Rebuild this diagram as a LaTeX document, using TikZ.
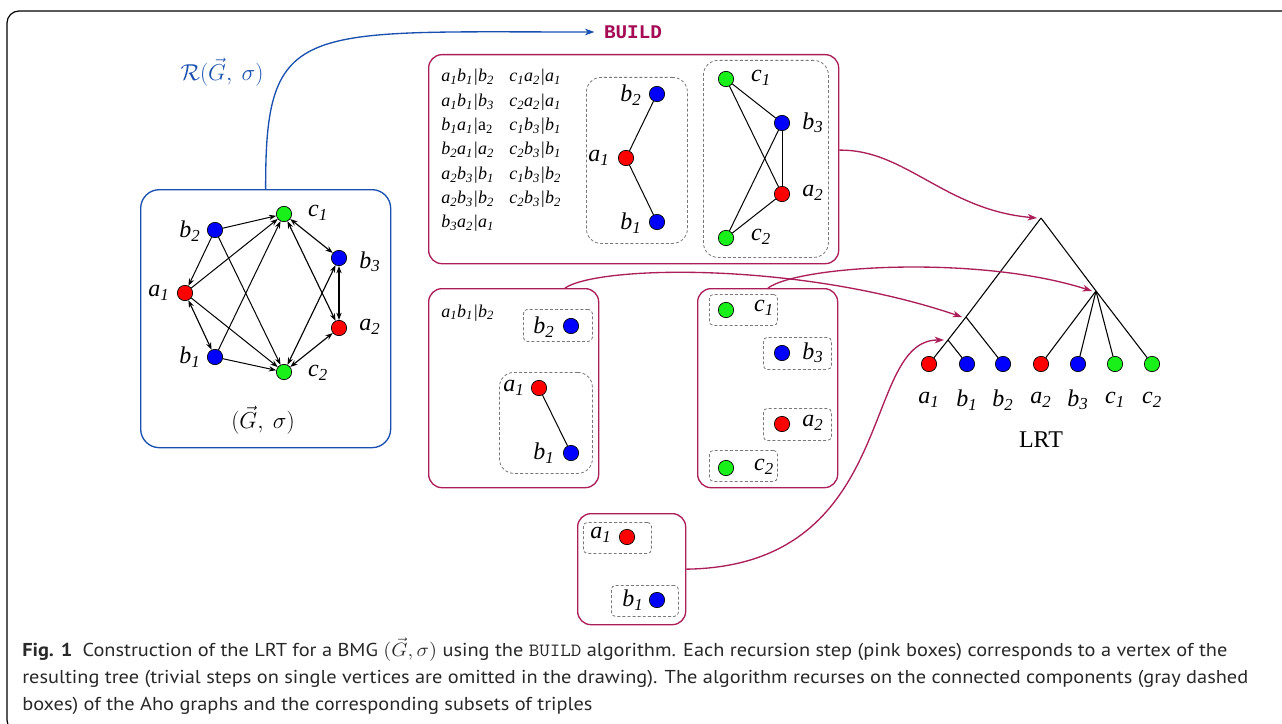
\documentclass[tikz,border=0pt]{standalone}
\usepackage{fontspec}
\setmainfont{Liberation Serif}
\newfontfamily\capfont{PT Sans}
\newfontfamily\buildfont{Liberation Mono}
\usetikzlibrary{arrows.meta}

\definecolor{stepcol}{RGB}{172,30,90}
\definecolor{inputcol}{RGB}{25,80,175}
\definecolor{buildcol}{RGB}{165,10,85}
\definecolor{vred}{RGB}{255,0,0}
\definecolor{vblue}{RGB}{0,0,255}
\definecolor{vgreen}{RGB}{25,240,25}
\definecolor{capgray}{RGB}{40,40,40}
\definecolor{compgray}{RGB}{120,120,120}

% vertex name with subscript, e.g. \ix a1
\newcommand\ix[2]{#1\textsubscript{#2}}
\newsavebox\capbox
\newcommand\capsize{\fontsize{14}{16}\selectfont}

\begin{document}
% horizontal scale of the caption lines, taken from the longest line
\sbox\capbox{\color{capgray}\capfont\capsize resulting tree (trivial steps on single vertices are omitted in the drawing). The algorithm recurses on the connected components (gray dashed}%
\pgfmathsetmacro\capscale{919.5pt/\the\wd\capbox}%
\begin{tikzpicture}[x=0.75pt,y=-0.75pt,
  size/.style 2 args={minimum width=#1*0.75pt,minimum height=#2*0.75pt,anchor=north west,inner sep=0pt},
  vtx/.style={circle,draw=black,line width=0.5pt,minimum size=11.5pt,inner sep=0pt},
  va/.style={vtx,fill=vred},
  vb/.style={vtx,fill=vblue},
  vc/.style={vtx,fill=vgreen},
  lab/.style={font=\fontsize{18}{18}\selectfont\itshape,inner sep=0pt},
  trip/.style={font=\fontsize{13.5}{13.5}\selectfont\itshape,inner sep=0pt,anchor=base west},
  inputbox/.style={draw=inputcol,line width=1pt,rounded corners=14pt},
  stepbox/.style={draw=stepcol,line width=1pt,rounded corners=10pt},
  compbig/.style={draw=compgray,line width=0.6pt,dash pattern=on 2.2pt off 1.6pt,rounded corners=11pt},
  compsmall/.style={draw=compgray,line width=0.6pt,dash pattern=on 2.2pt off 1.6pt,rounded corners=3pt},
  arc/.style={line width=0.75pt,-{Stealth[length=5.5pt,width=4pt]}},
  biarc/.style={line width=0.85pt,{Stealth[length=5.5pt,width=4pt]}-{Stealth[length=5.5pt,width=4pt]}},
  aho/.style={line width=0.75pt},
  tree/.style={line width=0.8pt},
  recur/.style={draw=stepcol,line width=1pt,-{Stealth[length=7pt,width=5pt,inset=2pt]}},
]
\useasboundingbox (0,0) rectangle (1282,724);

% page frame
\begin{scope}
  \clip (0,0) rectangle (1282,724);
  \draw[line width=0.9pt,rounded corners=9pt] (7,11) rectangle (1330,732);
\end{scope}

% ---------- input graph ----------
\node[inputbox,size={250}{258}] (G) at (140,189) {};
\node[vc] (Gc1) at (284,214) {};
\node[vb] (Gb2) at (215,230) {};
\node[vb] (Gb3) at (339,258) {};
\node[va] (Ga1) at (185,293) {};
\node[va] (Ga2) at (339,328) {};
\node[vb] (Gb1) at (215,357) {};
\node[vc] (Gc2) at (284,372) {};
\node[lab] (Gc1l) at (318,213) {\ix c1};
\node[lab] (Gb2l) at (190,231) {\ix b2};
\node[lab] (Gb3l) at (370,262) {\ix b3};
\node[lab] (Ga1l) at (159,293) {\ix a1};
\node[lab] (Ga2l) at (370,327) {\ix a2};
\node[lab] (Gb1l) at (190,357) {\ix b1};
\node[lab] (Gc2l) at (318,373) {\ix c2};
\node[font=\fontsize{16.5}{16.5}\selectfont,inner sep=0pt] (Gname) at (263,420) {$(\vec{G},\ \sigma)$};

\draw[arc] (Gb2) -- (Gc1);
\draw[arc] (Gb2) -- (Ga1);
\draw[arc] (Gb2) -- (Gc2);
\draw[arc] (Ga1) -- (Gc1);
\draw[arc] (Ga1) -- (Gc2);
\draw[arc] (Gb1) -- (Gc1);
\draw[arc] (Gb1) -- (Gc2);
\draw[biarc] (Ga1) -- (Gb1);
\draw[biarc] (Gc1) -- (Gb3);
\draw[biarc] (Gc1) -- (Ga2);
\draw[biarc] (Gb3) -- (Ga2);
\draw[biarc] (Gb3) -- (Gc2);
\draw[biarc] (Ga2) -- (Gc2);

% triples handed to BUILD
\node[font=\fontsize{16.5}{16.5}\selectfont,text=inputcol,inner sep=0pt] (R) at (222,72) {$\mathcal{R}(\vec{G},\ \sigma)$};
\node[font=\buildfont\fontsize{14.5}{14.5}\selectfont\bfseries,text=buildcol,inner sep=0pt] (B) at (633,32) {BUILD};
\draw[draw=inputcol,line width=1pt,-{Stealth[length=7pt,width=5pt,inset=2pt]}]
  (G.north) .. controls (265,20) and (300,32) .. ([xshift=-7pt]B.west);

% ---------- first recursion step ----------
\node[stepbox,size={410}{209}] (S1) at (428,54) {};
\node[trip] (t1) at (441,82) {\ix a1\ix b1|\ix b2};
\node[trip] (t2) at (441,106.3) {\ix a1\ix b1|\ix b3};
\node[trip] (t3) at (441,130.6) {\ix b1\ix a1|\textup{\ix a2}};
\node[trip] (t4) at (441,154.9) {\ix b2\ix a1|\ix a2};
\node[trip] (t5) at (441,179.2) {\ix a2\ix b3|\ix b1};
\node[trip] (t6) at (441,203.5) {\ix a2\ix b3|\ix b2};
\node[trip] (t7) at (441,227.8) {\ix b3\ix a2|\ix a1};
\node[trip] (t8) at (509,82) {\ix c1\ix a2|\ix a1};
\node[trip] (t9) at (509,106.3) {\ix c2\ix a2|\ix a1};
\node[trip] (t10) at (509,130.6) {\ix c1\ix b3|\ix b1};
\node[trip] (t11) at (509,154.9) {\ix c2\ix b3|\ix b1};
\node[trip] (t12) at (509,179.2) {\ix c1\ix b3|\ix b2};
\node[trip] (t13) at (509,203.5) {\ix c2\ix b3|\ix b2};

\node[compbig,size={101}{166}] (C11) at (586,77) {};
\node[vb] (S1b2) at (657,94) {};
\node[va] (S1a1) at (626,158) {};
\node[vb] (S1b1) at (657,222) {};
\node[lab] (S1b2l) at (631,95) {\ix b2};
\node[lab] (S1a1l) at (599,158) {\ix a1};
\node[lab] (S1b1l) at (631,223) {\ix b1};
\draw[aho] (S1a1) -- (S1b2);
\draw[aho] (S1a1) -- (S1b1);

\node[compbig,size={125}{197}] (C12) at (703,60) {};
\node[vc] (S1c1) at (726,79) {};
\node[vb] (S1b3) at (782,123) {};
\node[va] (S1a2) at (782,194) {};
\node[vc] (S1c2) at (726,238) {};
\node[lab] (S1c1l) at (761,78) {\ix c1};
\node[lab] (S1b3l) at (813,123) {\ix b3};
\node[lab] (S1a2l) at (813,193) {\ix a2};
\node[lab] (S1c2l) at (761,237) {\ix c2};
\draw[aho] (S1c1) -- (S1b3);
\draw[aho] (S1c1) -- (S1a2);
\draw[aho] (S1b3) -- (S1a2);
\draw[aho] (S1b3) -- (S1c2);
\draw[aho] (S1a2) -- (S1c2);

% ---------- step on {a1,b1,b2} ----------
\node[stepbox,size={170}{199}] (S2) at (428,288) {};
\node[trip] (t14) at (441,317) {\ix a1\ix b1|\ix b2};
\node[compsmall,size={69}{32}] (C21) at (523,309) {};
\node[vb] (S2b2) at (571,326) {};
\node[lab] (S2b2l) at (544,327) {\ix b2};
\node[compbig,size={93}{101}] (C22) at (499,372) {};
\node[va] (S2a1) at (539,388) {};
\node[vb] (S2b1) at (571,453) {};
\node[lab] (S2a1l) at (514,388) {\ix a1};
\node[lab] (S2b1l) at (544,453) {\ix b1};
\draw[aho] (S2a1) -- (S2b1);

% ---------- step on {a2,b3,c1,c2} ----------
\node[stepbox,size={140}{199}] (S3) at (697,288) {};
\node[compsmall,size={68}{31}] (C31) at (709,294) {};
\node[vc] (S3c1) at (726,310) {};
\node[lab] (S3c1l) at (764,308) {\ix c1};
\node[compsmall,size={68}{32}] (C32) at (763,337) {};
\node[vb] (S3b3) at (782,353) {};
\node[lab] (S3b3l) at (813,353) {\ix b3};
\node[compsmall,size={68}{32}] (C33) at (763,408) {};
\node[va] (S3a2) at (782,424) {};
\node[lab] (S3a2l) at (813,423) {\ix a2};
\node[compsmall,size={68}{31}] (C34) at (709,450) {};
\node[vc] (S3c2) at (726,468) {};
\node[lab] (S3c2l) at (764,467) {\ix c2};

% ---------- step on {a1,b1} ----------
\node[stepbox,size={108}{111}] (S4) at (577,513) {};
\node[compsmall,size={68}{31}] (C41) at (583,522) {};
\node[lab] (S4a1l) at (601,535) {\ix a1};
\node[va] (S4a1) at (627,537) {};
\node[compsmall,size={67}{31}] (C42) at (611,585) {};
\node[lab] (S4b1l) at (633,600) {\ix b1};
\node[vb] (S4b1) at (657,600) {};

% ---------- resulting tree ----------
\coordinate (T0) at (1041,218);
\coordinate (TX) at (1096,291);
\coordinate (TY) at (966,317);
\coordinate (TZ) at (948,340);
\node[va] (La1) at (929,364) {};
\node[vb] (Lb1) at (967,364) {};
\node[vb] (Lb2) at (1003,364) {};
\node[va] (La2) at (1041,364) {};
\node[vb] (Lb3) at (1078,364) {};
\node[vc] (Lc1) at (1115,364) {};
\node[vc] (Lc2) at (1152,364) {};
\node[lab] (La1l) at (929,400) {\ix a1};
\node[lab] (Lb1l) at (967,400) {\ix b1};
\node[lab] (Lb2l) at (1003,400) {\ix b2};
\node[lab] (La2l) at (1041,400) {\ix a2};
\node[lab] (Lb3l) at (1078,400) {\ix b3};
\node[lab] (Lc1l) at (1115,400) {\ix c1};
\node[lab] (Lc2l) at (1152,400) {\ix c2};
\node[font=\fontsize{18}{18}\selectfont,inner sep=0pt] (LRT) at (1041,440) {LRT};

\draw[tree] (T0) -- (TY) -- (TZ) -- (La1);
\draw[tree] (TZ) -- (Lb1);
\draw[tree] (TY) -- (Lb2);
\draw[tree] (T0) -- (TX) -- (Lc2);
\draw[tree] (TX) -- (La2);
\draw[tree] (TX) -- (Lb3);
\draw[tree] (TX) -- (Lc1);

% recursion steps mapped to tree vertices
\draw[recur] ([yshift=6.75pt]S1.east) .. controls (905,149) and (945,210) .. ([xshift=-3pt]T0);
\draw[recur] (S2.north -| 565,0) .. controls (600,265) and (800,262) .. ([xshift=-3pt]TY);
\draw[recur] (S3.north -| 768,0) .. controls (800,265) and (980,255) .. ([xshift=-3pt]TX);
\draw[recur] (S4.east) .. controls (900,566) and (860,340) .. ([xshift=-3pt]TZ);

% ---------- caption ----------
\node[anchor=base west,inner sep=0pt,text=capgray] (cap1) at (22,656)
  {\scalebox{\capscale}[1]{\capfont\capsize\textbf{Fig. 1}\enspace Construction of the LRT for a BMG $(\vec{G},\sigma)$ using the \texttt{BUILD} algorithm. Each recursion step (pink boxes) corresponds to a vertex of the}};
\node[anchor=base west,inner sep=0pt,text=capgray] (cap2) at (22,683)
  {\scalebox{\capscale}[1]{\usebox\capbox}};
\node[anchor=base west,inner sep=0pt,text=capgray] (cap3) at (22,710)
  {\scalebox{\capscale}[1]{\capfont\capsize boxes) of the Aho graphs and the corresponding subsets of triples}};
\end{tikzpicture}
\end{document}
